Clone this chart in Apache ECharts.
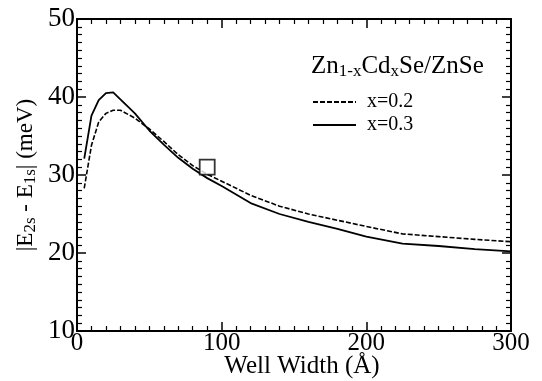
<!DOCTYPE html>
<html><head><meta charset="utf-8">
<script src="https://cdn.jsdelivr.net/npm/echarts@6/dist/echarts.min.js"></script>
<style>html,body{margin:0;padding:0;background:#fff}#c{width:542px;height:381px}</style>
</head><body><div id="c"></div>
<script>
const wellWidth = [5, 10, 15, 20, 25, 30, 40, 50, 60, 70, 80, 90, 100, 120, 140, 160, 180, 200, 225, 250, 275, 300];
const x02 = [28.3, 33.8, 36.8, 37.9, 38.3, 38.3, 37.3, 35.9, 34.3, 32.6, 31.2, 30.1, 29.2, 27.4, 26.0, 25.0, 24.2, 23.4, 22.45, 22.1, 21.75, 21.45];
const x03 = [32.1, 37.6, 39.6, 40.5, 40.6, 39.7, 37.9, 35.7, 33.9, 32.2, 30.8, 29.6, 28.6, 26.4, 25.0, 24.0, 23.1, 22.1, 21.2, 20.9, 20.5, 20.2];
const markerPoint = [[90, 31]];
const xTicks = [0, 100, 200, 300];
const yTicks = [10, 20, 30, 40, 50];

const font = '"Liberation Serif","Times New Roman",serif';
const pair = (xs, ys) => xs.map((v, i) => [v, ys[i]]);
const axisCommon = {
  axisLine: {show: true, onZero: false, lineStyle: {color: '#000', width: 2}},
  axisTick: {show: true, inside: true, length: 9, lineStyle: {color: '#000', width: 1.5}},
  minorTick: {show: true, splitNumber: 10, length: 5, lineStyle: {color: '#000', width: 1.2}},
  splitLine: {show: false}
};
const chart = echarts.init(document.getElementById('c'));
chart.setOption({
  animation: false,
  backgroundColor: '#fff',
  textStyle: {fontFamily: font, color: '#000'},
  grid: {left: 77, right: 31, top: 19, bottom: 50, containLabel: false, outerBoundsMode: 'none'},
  title: {
    text: '{m|Zn}{s|1-x}{m|Cd}{s|x}{m|Se/ZnSe}',
    left: 306, top: 47,
    textStyle: {rich: {
      m: {fontFamily: font, fontSize: 25, color: '#000', fontWeight: 'normal'},
      s: {fontFamily: font, fontSize: 17, color: '#000', fontWeight: 'normal', verticalAlign: 'bottom', padding: [11, 0, 0, 0]}
    }}
  },
  legend: {
    orient: 'vertical', left: 307, top: 87, itemWidth: 43, itemHeight: 10, itemGap: 3,
    itemStyle: {opacity: 0},
    textStyle: {fontFamily: font, fontSize: 20, lineHeight: 20, color: '#000', padding: [0, 0, 0, 6]},
    data: ['x=0.2', 'x=0.3']
  },
  xAxis: [
    Object.assign({type: 'value', min: 0, max: 300, interval: 100, position: 'bottom',
      name: 'Well Width (Å)', nameLocation: 'middle', nameGap: 23, nameMoveOverlap: false,
      nameTextStyle: {fontFamily: font, fontSize: 25, color: '#000', padding: [0, 0, 0, 16]},
      axisLabel: {fontFamily: font, fontSize: 25, color: '#000', margin: 0,
        formatter: v => xTicks.includes(v) ? String(v) : ''}}, axisCommon),
    Object.assign({type: 'value', min: 0, max: 300, interval: 100, position: 'top',
      axisLabel: {show: false}}, axisCommon)
  ],
  yAxis: [
    Object.assign({type: 'value', min: 10, max: 50, interval: 10, position: 'left',
      name: '{m||E}{s|2s}{m| - E}{s|1s}{m|| (meV)}', nameLocation: 'middle', nameGap: 38, nameRotate: 90,
      nameMoveOverlap: false,
      nameTextStyle: {rich: {
        m: {fontFamily: font, fontSize: 23, color: '#000'},
        s: {fontFamily: font, fontSize: 17, color: '#000', verticalAlign: 'bottom', padding: [10, 0, 0, 0]}
      }},
      axisLabel: {fontFamily: font, fontSize: 27, color: '#000', margin: 2,
        formatter: v => yTicks.includes(v) ? String(v) : ''}}, axisCommon),
    Object.assign({type: 'value', min: 10, max: 50, interval: 10, position: 'right',
      axisLabel: {show: false}}, axisCommon)
  ],
  series: [
    {name: 'x=0.2', type: 'line', data: pair(wellWidth, x02), showSymbol: false, symbol: 'none',
      lineStyle: {color: '#000', width: 1.6, type: [5, 2]}, itemStyle: {color: '#000'}},
    {name: 'x=0.3', type: 'line', data: pair(wellWidth, x03), showSymbol: false, symbol: 'none',
      lineStyle: {color: '#000', width: 1.8, type: 'solid'}, itemStyle: {color: '#000'}},
    {name: 'marker', type: 'scatter', data: markerPoint, symbol: 'rect', symbolSize: 15,
      itemStyle: {color: '#fff', borderColor: '#000', borderWidth: 1.8}, z: 5}
  ]
});
</script></body></html>
